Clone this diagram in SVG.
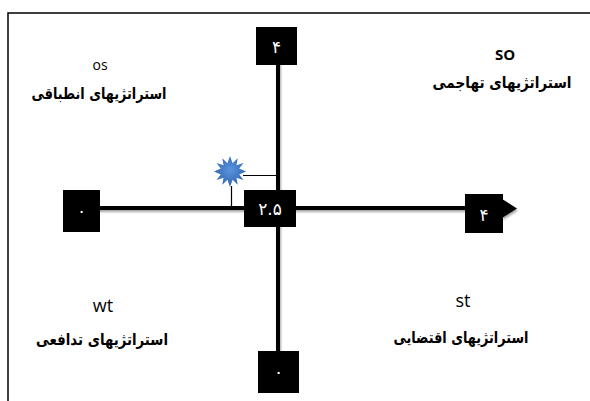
<svg xmlns="http://www.w3.org/2000/svg" width="590" height="401" viewBox="0 0 590 401">
<defs>
<style>
.box{fill:#000}
.num{fill:#fff;font-family:"DejaVu Sans",sans-serif;font-size:17px;text-anchor:middle}
.fa{font-family:"DejaVu Sans",sans-serif;font-weight:bold;font-size:15.5px;text-anchor:middle;fill:#000}
.en{font-family:"Open Sans","Liberation Sans",sans-serif;text-anchor:middle;fill:#000}
.axis{stroke:#000;stroke-width:4;fill:none}
.thin{stroke:#000;stroke-width:1.2;fill:none}
</style>
<filter id="sh" filterUnits="userSpaceOnUse" x="0" y="0" width="590" height="401">
<feDropShadow dx="1" dy="2" stdDeviation="1.2" flood-color="#000" flood-opacity="0.35"/>
</filter>
<radialGradient id="starg" cx="50%" cy="45%" r="55%">
<stop offset="0" stop-color="#5a95dc"/>
<stop offset="1" stop-color="#2f64b0"/>
</radialGradient>
</defs>
<rect width="590" height="401" fill="#fff"/>
<path d="M8 401 V13 H590" fill="none" stroke="#000" stroke-width="1.5"/>
<g id="connectors">
<line class="axis" x1="278" y1="60" x2="278" y2="355" filter="url(#sh)"/>
<line class="axis" x1="80" y1="208" x2="505" y2="208" filter="url(#sh)"/>
<polygon points="502,199 517,208.5 502,218" fill="#000" filter="url(#sh)"/>
<polyline class="thin" points="243,175.5 278,175.5"/>
<polyline class="thin" points="231.5,186 231.5,208"/>
</g>
<g id="star">
<polygon fill="url(#starg)" points="230,156 232.6,163.3 237.7,158.3 236.5,165.3 243.5,163 239.2,168.6 246,171.5 239.2,174.4 243.5,180 236.5,177.7 237.7,184.7 232.6,179.7 230,187 227.4,179.7 222.3,184.7 223.5,177.7 216.5,180 220.8,174.4 214,171.5 220.8,168.6 216.5,163 223.5,165.3 222.3,158.3 227.4,163.3"/>
</g>
<g id="n-top">
<rect class="box" x="256" y="27" width="41" height="38"/>
<text class="num" x="276.5" y="53">۴</text>
</g>
<g id="n-center">
<rect class="box" x="244" y="190" width="52" height="37"/>
<text class="num" x="270" y="215">۲.۵</text>
</g>
<g id="n-left">
<rect class="box" x="63" y="190" width="37" height="42"/>
<text class="num" x="81.5" y="217">۰</text>
</g>
<g id="n-right">
<rect class="box" x="465" y="194" width="38" height="39"/>
<text class="num" x="484" y="221">۴</text>
</g>
<g id="n-bottom">
<rect class="box" x="258" y="351" width="41" height="42"/>
<text class="num" x="278.5" y="378">۰</text>
</g>
<g id="q-os">
<text class="en" x="100" y="70" font-size="14">os</text>
<text class="fa" x="99" y="99" textLength="135" lengthAdjust="spacingAndGlyphs">استراتژیهای انطباقی</text>
</g>
<g id="q-so">
<text class="en" x="505" y="60" font-size="15" font-weight="bold">SO</text>
<text class="fa" x="502" y="88" textLength="139" lengthAdjust="spacingAndGlyphs">استراتژیهای تهاجمی</text>
</g>
<g id="q-wt">
<text class="en" x="103" y="312" font-size="18">wt</text>
<text class="fa" x="102" y="345" textLength="132" lengthAdjust="spacingAndGlyphs">استراتژیهای تدافعی</text>
</g>
<g id="q-st">
<text class="en" x="463" y="307" font-size="18">st</text>
<text class="fa" x="461" y="343" textLength="135" lengthAdjust="spacingAndGlyphs">استراتژیهای اقتضایی</text>
</g>
</svg>
